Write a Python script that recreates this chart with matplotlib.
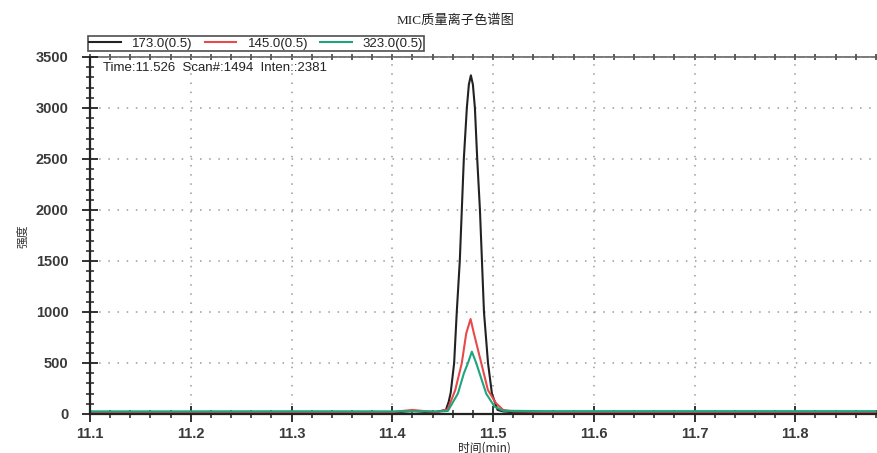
import numpy as np
import matplotlib
matplotlib.use('Agg')
import matplotlib.pyplot as plt
from matplotlib.ticker import MultipleLocator

# MIC traces (time in min, intensity)
t_173 = [11.10, 11.20, 11.30, 11.40, 11.42, 11.44, 11.4532, 11.456, 11.458, 11.4614,
         11.464, 11.467, 11.469, 11.471, 11.474, 11.476, 11.478, 11.480, 11.482, 11.4843,
         11.487, 11.489, 11.491, 11.495, 11.4989, 11.5045, 11.51, 11.52, 11.60, 11.70, 11.88]
i_173 = [12, 12, 14, 12, 30, 14, 40, 120, 210, 500,
         1000, 1500, 2000, 2500, 3000, 3230, 3320, 3230, 3000, 2500,
         2000, 1500, 1000, 500, 200, 40, 25, 18, 15, 15, 15]

t_145 = [11.10, 11.20, 11.30, 11.40, 11.41, 11.42, 11.43, 11.445, 11.455, 11.4625,
         11.469, 11.4734, 11.4777, 11.481, 11.4883, 11.4949, 11.503, 11.51, 11.52, 11.55,
         11.60, 11.88]
i_145 = [18, 16, 18, 18, 30, 40, 30, 18, 45, 235,
         500, 791, 931, 791, 500, 235, 105, 40, 25, 20,
         18, 18]

t_323 = [11.10, 11.20, 11.30, 11.40, 11.45, 11.4552, 11.4651, 11.4711, 11.4751, 11.479,
         11.4833, 11.4866, 11.4932, 11.5015, 11.51, 11.55, 11.70, 11.88]
i_323 = [26, 26, 27, 26, 26, 30, 200, 400, 500, 611,
         500, 400, 200, 72, 32, 28, 28, 28]

labels = ['173.0(0.5)', '145.0(0.5)', '323.0(0.5)']
colors = ['#222222', '#e8494a', '#1fa57e']

plt.rcParams['font.family'] = ['Liberation Sans', 'Noto Sans CJK SC', 'DejaVu Sans']

fig = plt.figure(figsize=(8.77, 4.53), dpi=100)
ax = fig.add_axes([0.1026, 0.0861, 0.8962, 0.7881])

for t, y, lab, c in zip([t_173, t_145, t_323], [i_173, i_145, i_323], labels, colors):
    ax.plot(t, y, color=c, lw=1.5, label=lab)

ax.set_xlim(11.1, 11.88)
ax.set_ylim(0, 3500)
ax.xaxis.set_minor_locator(MultipleLocator(0.02))
ax.yaxis.set_major_locator(MultipleLocator(500))
ax.yaxis.set_minor_locator(MultipleLocator(100))
xt = np.arange(11.1, 11.85, 0.1)
ax.set_xticks(xt)
ax.set_xticklabels(['%.1f' % v for v in xt])

ax.tick_params(which='major', direction='inout', length=11, width=1.3, color='#222222',
               labelsize=10.5, labelcolor='#3a3a3a')
ax.tick_params(axis='y', which='major', pad=10)
ax.tick_params(axis='x', which='major', pad=4)
ax.tick_params(which='minor', direction='inout', length=6, width=1.1, color='#222222')
for lab in ax.get_xticklabels() + ax.get_yticklabels():
    lab.set_fontweight('bold')

# small ticks along the top frame
top = ax.secondary_xaxis('top')
top.set_xticks(xt)
top.xaxis.set_minor_locator(MultipleLocator(0.02))
top.tick_params(which='both', direction='inout', length=4, width=1.1, color='#333333',
                labeltop=False)
top.spines['top'].set_linewidth(1.1)
top.spines['top'].set_color('#555555')

ax.grid(True, which='major', linestyle=(0, (1, 5)), color='#9a9a9a', lw=1.1)
for s in ['left', 'bottom']:
    ax.spines[s].set_linewidth(1.6)
    ax.spines[s].set_color('#222222')
ax.spines['top'].set_visible(False)
ax.spines['right'].set_visible(False)

ax.text(0.0165, 0.969, 'Time:11.526  Scan#:1494  Inten.:2381', transform=ax.transAxes,
        fontsize=9.5, color='#222222', va='center', ha='left')

leg = fig.legend(loc='upper left', bbox_to_anchor=(88 / 877, 1 - 36 / 453), ncol=3,
                 fontsize=9.5, frameon=True, fancybox=False, borderpad=0.1,
                 handlelength=2.4, handletextpad=0.85, columnspacing=0.9,
                 borderaxespad=0, labelspacing=0.1)
leg.get_frame().set_edgecolor('#222222')
leg.get_frame().set_linewidth(1.2)
for txt in leg.get_texts():
    txt.set_color('#222222')

fig.text(456 / 877, 1 - 21 / 453, 'MIC质量离子色谱图', ha='center', va='center',
         fontsize=9.5, family=['Liberation Serif', 'Noto Sans CJK SC'], color='#222222')
fig.text(23 / 877, 1 - 236 / 453, '强度', rotation=90, ha='center', va='center',
         fontsize=8.5, family=['Noto Sans CJK SC'], color='#333333')
fig.text(484 / 877, 1 - 448 / 453, '时间(min)', ha='center', va='center',
         fontsize=8.5, family=['Noto Sans CJK SC', 'Liberation Serif'], color='#222222')

fig.savefig('out.png', dpi=100)
